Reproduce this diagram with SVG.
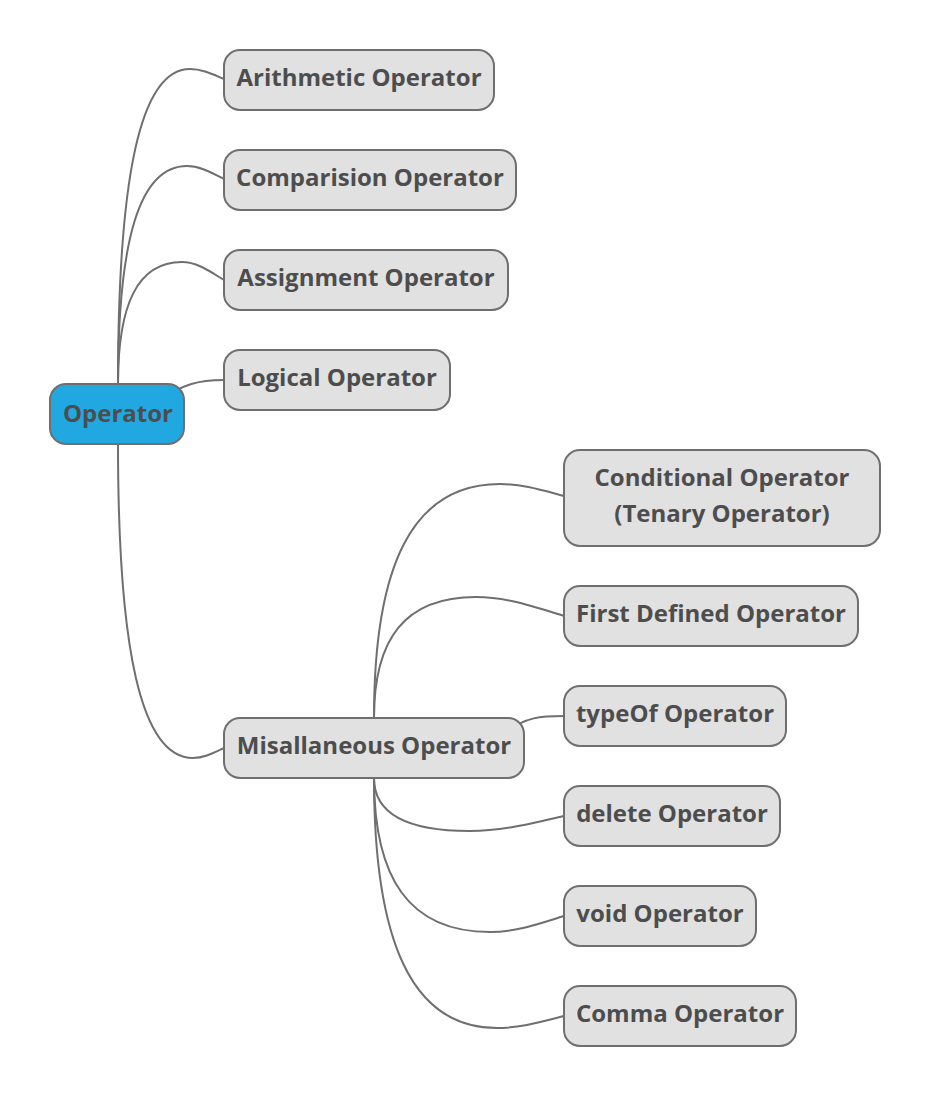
<svg xmlns="http://www.w3.org/2000/svg" width="930" height="1096" viewBox="0 0 930 1096">
<style>
.bg{fill:#ffffff}
.conn path{fill:none;stroke:#6f6f6f;stroke-width:2}
.node rect{fill:#e1e1e1;stroke:#6f6f6f;stroke-width:2}
#root rect{fill:#22a8e0}
text{font-family:"Open Sans","Noto Sans","Liberation Sans",sans-serif;font-weight:bold;font-size:24px;fill:#4d4d4d;text-anchor:middle}
</style>
<rect class="bg" x="0" y="0" width="930" height="1096"/>
<g id="connectors" class="conn">
<path d="M118,384 C118,179 139.6,69 190,69 C201.9,69 212.1,74 224,79"/>
<path d="M118,384 C118,242 138.7,166 187,166 C200,166 211,172.5 224,179"/>
<path d="M118,384 C118,305 137.2,262 182,262 C196.7,262 209.3,271 224,280"/>
<path d="M160,402 C180,384 200,380 224,380"/>
<path d="M118,444 C118,648 140.5,758 193,758 C203.9,758 213.2,753 224,748"/>
<path d="M374,718 C374,566 411.8,484 500,484 C522.4,484 541.6,490 564,496"/>
<path d="M374,718 C374,639 404.6,597 476,597 C506.8,597 533.2,606.5 564,616"/>
<path d="M505,735 C522,716 545,716 564,716"/>
<path d="M374,778 C374,812 402.8,831 470,831 C502.9,831 531.1,823.5 564,816"/>
<path d="M374,778 C374,878 408.8,932 490,932 C515.9,932 538.1,924 564,916"/>
<path d="M374,778 C374,940 410.9,1028 497,1028 C520.5,1028 540.6,1022 564,1016"/>
</g>
<g id="root" class="node"><rect x="50" y="384" width="134" height="60" rx="16"/><text x="118" y="422">Operator</text></g>
<g id="n-arith" class="node"><rect x="224" y="50" width="270" height="60" rx="16"/><text x="359" y="86">Arithmetic Operator</text></g>
<g id="n-comp" class="node"><rect x="224" y="150" width="292" height="60" rx="16"/><text x="370" y="186">Comparision Operator</text></g>
<g id="n-assign" class="node"><rect x="224" y="250" width="284" height="60" rx="16"/><text x="366" y="286">Assignment Operator</text></g>
<g id="n-logical" class="node"><rect x="224" y="350" width="226" height="60" rx="16"/><text x="337" y="386">Logical Operator</text></g>
<g id="n-misc" class="node"><rect x="224" y="718" width="300" height="60" rx="16"/><text x="374" y="754">Misallaneous Operator</text></g>
<g id="n-cond" class="node"><rect x="564" y="450" width="316" height="96" rx="16"/><text x="722" y="486">Conditional Operator</text><text x="722" y="522">(Tenary Operator)</text></g>
<g id="n-first" class="node"><rect x="564" y="586" width="294" height="60" rx="16"/><text x="711" y="622">First Defined Operator</text></g>
<g id="n-typeof" class="node"><rect x="564" y="686" width="222" height="60" rx="16"/><text x="675" y="722">typeOf Operator</text></g>
<g id="n-delete" class="node"><rect x="564" y="786" width="216" height="60" rx="16"/><text x="672" y="822">delete Operator</text></g>
<g id="n-void" class="node"><rect x="564" y="886" width="192" height="60" rx="16"/><text x="660" y="922">void Operator</text></g>
<g id="n-comma" class="node"><rect x="564" y="986" width="232" height="60" rx="16"/><text x="680" y="1022">Comma Operator</text></g>
</svg>
